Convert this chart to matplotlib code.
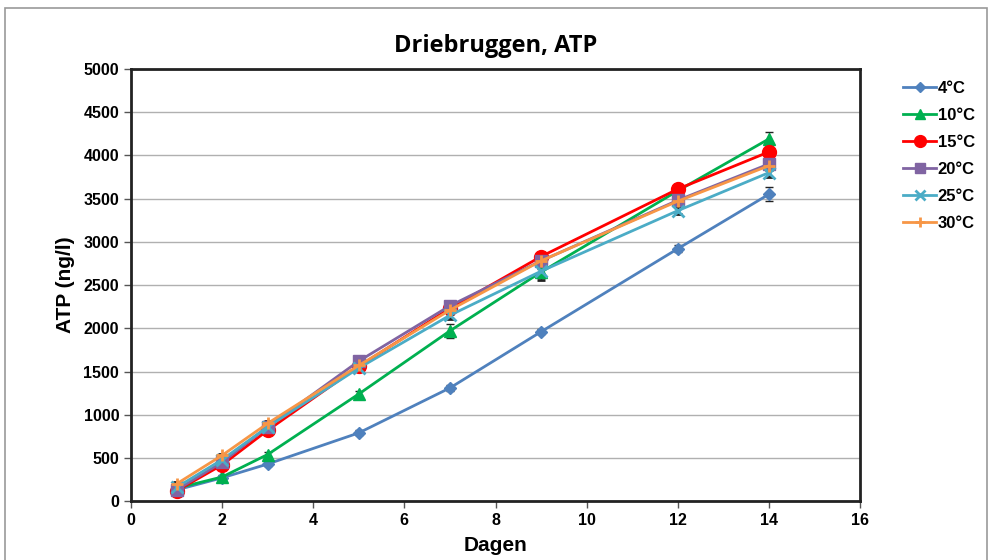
import matplotlib
matplotlib.use("Agg")
import matplotlib.pyplot as plt
from matplotlib.lines import Line2D
from matplotlib.patches import Rectangle

plt.rcParams['font.family'] = ['Liberation Sans', 'DejaVu Sans']

# days of measurement
dagen = [1, 2, 3, 5, 7, 9, 12, 14]

# ATP (ng/l) per temperature
atp_4 = [130, 270, 430, 790, 1310, 1960, 2920, 3550]
atp_10 = [150, 280, 540, 1240, 1970, 2650, 3590, 4190]
atp_15 = [120, 420, 820, 1560, 2230, 2830, 3610, 4040]
atp_20 = [130, 450, 860, 1620, 2260, 2780, 3480, 3900]
atp_25 = [160, 480, 860, 1540, 2150, 2660, 3360, 3800]
atp_30 = [200, 530, 900, 1570, 2210, 2780, 3470, 3880]

# standard deviations
sd_4 = [20, 20, 25, 30, 30, 30, 40, 80]
sd_10 = [20, 20, 30, 40, 80, 40, 40, 80]
sd_15 = [20, 20, 30, 30, 40, 40, 40, 50]
sd_20 = [20, 20, 30, 30, 40, 40, 40, 50]
sd_25 = [20, 20, 30, 30, 40, 100, 40, 50]
sd_30 = [20, 20, 30, 30, 40, 40, 40, 50]

labels = ['4°C', '10°C', '15°C', '20°C', '25°C', '30°C']
series = [atp_4, atp_10, atp_15, atp_20, atp_25, atp_30]
errors = [sd_4, sd_10, sd_15, sd_20, sd_25, sd_30]
colors = ['#4F81BD', '#00B050', '#FF0000', '#8064A2', '#4BACC6', '#F79646']
markers = ['D', '^', 'o', 's', 'x', '+']
msizes = [6, 9, 10, 9, 8, 9]

fig = plt.figure(figsize=(9.92, 5.6), dpi=100)
ax = fig.add_axes([0.132, 0.105, 0.735, 0.772])

handles = []
for y, e, lab, c, m, ms in zip(series, errors, labels, colors, markers, msizes):
    mew = 2 if m in ('x', '+') else 1
    ax.errorbar(dagen, y, yerr=e, color=c, ecolor='#222222', elinewidth=0.8,
                capsize=3, capthick=0.8, marker=m, markersize=ms, linewidth=2,
                markeredgewidth=mew)
    handles.append(Line2D([], [], color=c, marker=m, markersize=ms * 0.85, linewidth=2,
                          markeredgewidth=mew, label=lab))

ax.set_xlim(0, 16)
ax.set_ylim(0, 5000)
ax.set_xticks(range(0, 17, 2))
ax.set_yticks(range(0, 5001, 500))
ax.yaxis.grid(True, color='#B0B0B0', linewidth=1)
ax.set_axisbelow(True)
for s in ax.spines.values():
    s.set_linewidth(2)
    s.set_color('#222222')
ax.tick_params(labelsize=11.5, width=1, length=5, color='#555555')
for t in ax.get_xticklabels() + ax.get_yticklabels():
    t.set_fontweight('bold')

ax.set_title('Driebruggen, ATP', fontsize=17, fontweight='bold',
             family=['Open Sans', 'DejaVu Sans'], pad=12)
ax.set_xlabel('Dagen', fontsize=15, fontweight='bold', labelpad=6)
ax.set_ylabel('ATP (ng/l)', fontsize=15, fontweight='bold', labelpad=6)

fig.legend(handles=handles, loc='upper left', bbox_to_anchor=(0.895, 0.882),
           frameon=False, prop={'weight': 'bold', 'size': 12},
           handlelength=2.0, handletextpad=0.1, labelspacing=0.72)

fig.patches.append(Rectangle((0.005, -0.01), 0.99, 0.995, transform=fig.transFigure,
                             fill=False, edgecolor='#999999', linewidth=1.2))

fig.savefig('out.png', dpi=100)
